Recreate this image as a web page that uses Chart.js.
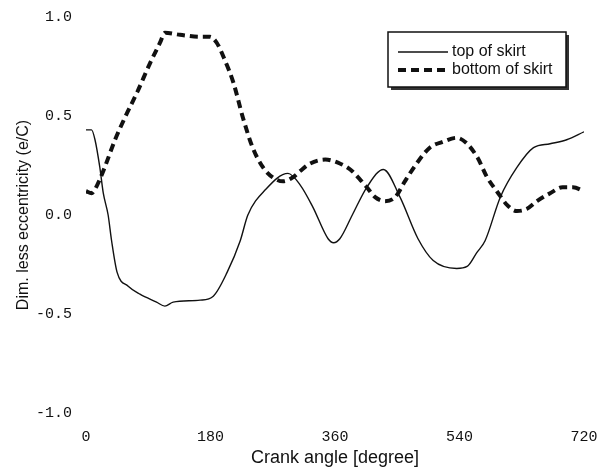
<!DOCTYPE html>
<html>
<head>
<meta charset="utf-8">
<script src="https://cdn.jsdelivr.net/npm/chart.js@4.4.0/dist/chart.umd.min.js"></script>
<style>
  html, body { margin: 0; padding: 0; background: #fff; }
  #wrap { width: 600px; height: 474px; position: relative; }
</style>
</head>
<body>
<div id="wrap"><canvas id="chart" width="600" height="474"></canvas></div>
<script>
// Crank angle ticks
const xTicks = [0, 180, 360, 540, 720];
const yTicks = [-1.0, -0.5, 0.0, 0.5, 1.0];

// top of skirt (solid)
const topAngles = [0, 8, 13, 20, 25, 32, 37, 45, 61, 78, 102, 114, 126, 165, 184, 204, 223, 234, 260, 292, 310, 328, 350, 358, 367, 385, 406, 430, 454, 480, 502, 536, 551, 565, 577, 599, 623, 647, 671, 695, 720];
const topValues = [0.43, 0.43, 0.38, 0.24, 0.11, 0.0, -0.13, -0.29, -0.36, -0.40, -0.44, -0.46, -0.44, -0.43, -0.41, -0.29, -0.13, 0.0, 0.13, 0.21, 0.15, 0.04, -0.12, -0.14, -0.12, 0.0, 0.14, 0.23, 0.09, -0.12, -0.23, -0.27, -0.26, -0.19, -0.13, 0.09, 0.24, 0.34, 0.36, 0.38, 0.42];

// bottom of skirt (dashed)
const bottomAngles = [0, 8, 13, 20, 27, 42, 56, 74, 93, 107, 114, 136, 165, 179, 189, 201, 213, 227, 241, 256, 270, 285, 299, 309, 324, 346, 367, 382, 396, 406, 418, 432, 447, 461, 478, 497, 516, 536, 551, 566, 580, 594, 609, 623, 637, 652, 671, 689, 704, 720];
const bottomValues = [0.12, 0.11, 0.13, 0.18, 0.24, 0.38, 0.49, 0.62, 0.77, 0.87, 0.92, 0.91, 0.90, 0.90, 0.87, 0.78, 0.67, 0.49, 0.34, 0.24, 0.19, 0.17, 0.19, 0.22, 0.26, 0.28, 0.26, 0.23, 0.18, 0.14, 0.09, 0.07, 0.09, 0.17, 0.26, 0.34, 0.37, 0.39, 0.36, 0.29, 0.19, 0.12, 0.05, 0.02, 0.03, 0.07, 0.11, 0.14, 0.14, 0.12];

const seriesNames = ['top of skirt', 'bottom of skirt'];

function toPoints(xs, ys) {
    return xs.map((x, i) => ({ x: x, y: ys[i] }));
}

const monoFont = { family: "'Liberation Mono', 'DejaVu Sans Mono', monospace", size: 15 };
const sansFont = "'Liberation Sans', Arial, sans-serif";

// Boxed legend with a drop shadow, drawn on the canvas
const boxLegend = {
    id: 'boxLegend',
    afterDraw(chart) {
        const ctx = chart.ctx;
        const x = 388, y = 32, w = 178, h = 55;
        ctx.save();
        ctx.fillStyle = '#333';
        ctx.fillRect(x + 3, y + 3, w, h);
        ctx.fillStyle = '#fff';
        ctx.fillRect(x, y, w, h);
        ctx.strokeStyle = '#111';
        ctx.lineWidth = 1.5;
        ctx.strokeRect(x, y, w, h);

        ctx.font = '16px ' + sansFont;
        ctx.textBaseline = 'middle';
        chart.data.datasets.forEach((ds, i) => {
            const ly = y + 20 + i * 18;
            ctx.beginPath();
            ctx.strokeStyle = ds.borderColor;
            ctx.lineWidth = ds.borderWidth;
            ctx.setLineDash(ds.borderDash || []);
            ctx.moveTo(x + 10, ly);
            ctx.lineTo(x + 60, ly);
            ctx.stroke();
            ctx.setLineDash([]);
            ctx.fillStyle = '#111';
            ctx.fillText(ds.label, x + 64, ly);
        });
        ctx.restore();
    }
};

new Chart(document.getElementById('chart'), {
    type: 'line',
    data: {
        datasets: [
            {
                label: seriesNames[0],
                data: toPoints(topAngles, topValues),
                borderColor: '#111',
                borderWidth: 1.4,
                pointRadius: 0,
                cubicInterpolationMode: 'monotone',
                fill: false
            },
            {
                label: seriesNames[1],
                data: toPoints(bottomAngles, bottomValues),
                borderColor: '#111',
                borderWidth: 4,
                borderDash: [8, 5],
                pointRadius: 0,
                cubicInterpolationMode: 'monotone',
                fill: false
            }
        ]
    },
    options: {
        responsive: false,
        animation: false,
        layout: { padding: { left: 14, right: 16, top: 17, bottom: 5 } },
        plugins: {
            legend: { display: false },
            tooltip: { enabled: false }
        },
        scales: {
            x: {
                type: 'linear',
                min: 0,
                max: 720,
                border: { display: false },
                grid: { display: false, drawTicks: false },
                afterBuildTicks: (scale) => { scale.ticks = xTicks.map(v => ({ value: v })); },
                afterFit: (scale) => {
                    scale.height = 56;
                    scale.paddingLeft = 0;
                    scale.paddingRight = 0;
                },
                ticks: { font: monoFont, color: '#111', padding: 15, maxRotation: 0 },
                title: {
                    display: true,
                    text: 'Crank angle [degree]',
                    font: { family: sansFont, size: 18 },
                    color: '#111',
                    padding: { top: 0, bottom: 0 }
                }
            },
            y: {
                type: 'linear',
                min: -1,
                max: 1,
                border: { display: false },
                grid: { display: false, drawTicks: false },
                afterBuildTicks: (scale) => { scale.ticks = yTicks.map(v => ({ value: v })); },
                afterFit: (scale) => {
                    scale.width = 72;
                    scale.paddingTop = 0;
                    scale.paddingBottom = 0;
                },
                ticks: {
                    font: monoFont,
                    color: '#111',
                    padding: 14,
                    callback: (v) => v.toFixed(1)
                },
                title: {
                    display: true,
                    text: 'Dim. less eccentricity (e/C)',
                    font: { family: sansFont, size: 16 },
                    color: '#111',
                    padding: { top: 0, bottom: 0 }
                }
            }
        }
    },
    plugins: [boxLegend]
});
</script>
</body>
</html>
